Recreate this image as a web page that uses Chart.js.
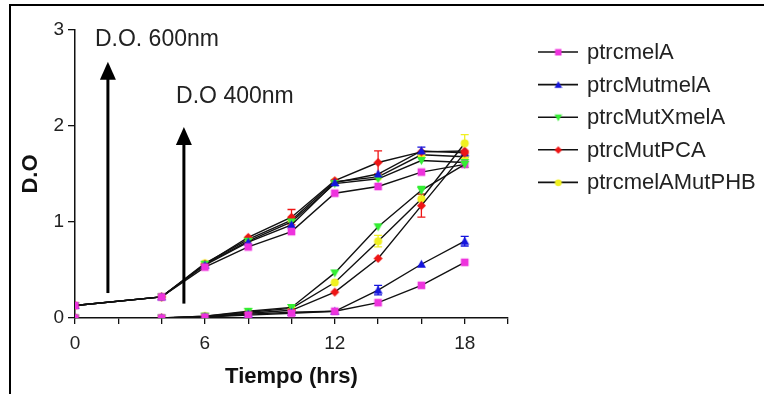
<!DOCTYPE html>
<html>
<head>
<meta charset="utf-8">
<script src="https://cdn.jsdelivr.net/npm/chart.js@4.4.1/dist/chart.umd.min.js"></script>
<style>
  html, body { margin: 0; padding: 0; background: #fff; }
  #wrap { position: relative; width: 764px; height: 394px; overflow: hidden; }
  #frame { position: absolute; left: 9px; top: 4px; width: 800px; height: 420px; border: 2.5px solid #000; border-bottom: none; box-sizing: border-box; pointer-events: none; }
  canvas { position: absolute; left: 0; top: 0; }
</style>
</head>
<body>
<div id="wrap">
  <canvas id="c" width="764" height="394"></canvas>
  <div id="frame"></div>
</div>
<script>
// ---- data ----
const hours = [0, 4, 6, 8, 10, 12, 14, 16, 18];
const seriesNames = ["ptrcmelA", "ptrcMutmelA", "ptrcMutXmelA", "ptrcMutPCA", "ptrcmelAMutPHB"];
const seriesColors = ["#ee33dd", "#1515dd", "#33ee33", "#ee1515", "#f0f020"];
const seriesShapes = ["rect", "triangle", "triangleDown", "rectRot", "circle"];

// D.O. 600nm
const od600_melA       = [0.13, 0.22, 0.53, 0.74, 0.90, 1.30, 1.37, 1.52, 1.60];
const od600_MutmelA    = [0.13, 0.22, 0.55, 0.79, 0.97, 1.41, 1.50, 1.74, 1.72];
const od600_MutXmelA   = [0.13, 0.22, 0.56, 0.80, 1.00, 1.40, 1.45, 1.64, 1.62];
const od600_MutPCA     = [0.13, 0.22, 0.56, 0.84, 1.05, 1.43, 1.62, 1.73, 1.74];
const od600_melAMutPHB = [0.13, 0.22, 0.57, 0.82, 1.02, 1.42, 1.47, 1.70, 1.68];
// D.O. 400nm
const od400_melA       = [0.00, 0.00, 0.01, 0.03, 0.05, 0.07, 0.16, 0.34, 0.58];
const od400_MutmelA    = [0.00, 0.00, 0.01, 0.04, 0.06, 0.07, 0.29, 0.56, 0.80];
const od400_MutXmelA   = [0.00, 0.00, 0.02, 0.07, 0.11, 0.47, 0.95, 1.33, 1.60];
const od400_MutPCA     = [0.00, 0.00, 0.01, 0.05, 0.08, 0.27, 0.62, 1.17, 1.72];
const od400_melAMutPHB = [0.00, 0.00, 0.02, 0.06, 0.10, 0.37, 0.80, 1.24, 1.82];
// error (half-width) per point
const err600_melA       = [0, 0, 0, 0, 0, 0, 0, 0, 0];
const err600_MutmelA    = [0, 0, 0, 0, 0, 0.03, 0, 0.04, 0];
const err600_MutXmelA   = [0, 0, 0, 0, 0, 0, 0, 0, 0.05];
const err600_MutPCA     = [0, 0, 0, 0, 0.08, 0, 0.12, 0, 0];
const err600_melAMutPHB = [0, 0, 0, 0, 0, 0, 0, 0, 0];
const err400_melA       = [0, 0, 0, 0, 0, 0, 0, 0, 0];
const err400_MutmelA    = [0, 0, 0, 0, 0, 0, 0.05, 0, 0.05];
const err400_MutXmelA   = [0, 0, 0, 0, 0, 0, 0, 0.04, 0];
const err400_MutPCA     = [0, 0, 0, 0, 0, 0, 0, 0.12, 0];
const err400_melAMutPHB = [0, 0, 0, 0, 0, 0, 0.06, 0, 0.09];

const xTickLabels = [0, 6, 12, 18];
const yTickLabels = [0, 1, 2, 3];
const annotationLabels = ["D.O. 600nm", "D.O 400nm"];
// arrow annotations in data units: [x, yBottom, yTop]
const arrow600 = [1.52, 0.26, 2.67];
const arrow400 = [5.03, 0.15, 1.99];
const label600Pos = [0.92, 2.9];
const label400Pos = [4.67, 2.31];

const od600 = [od600_melA, od600_MutmelA, od600_MutXmelA, od600_MutPCA, od600_melAMutPHB];
const od400 = [od400_melA, od400_MutmelA, od400_MutXmelA, od400_MutPCA, od400_melAMutPHB];
const err600 = [err600_melA, err600_MutmelA, err600_MutXmelA, err600_MutPCA, err600_melAMutPHB];
const err400 = [err400_melA, err400_MutmelA, err400_MutXmelA, err400_MutPCA, err400_melAMutPHB];

const FONT = "'Liberation Sans', Arial, sans-serif";

// custom marker shapes
function makeMarker(shape, color, size) {
  const c = document.createElement('canvas');
  const s = size * 2 + 2;
  c.width = s; c.height = s;
  const g = c.getContext('2d');
  g.fillStyle = color;
  const m = s / 2;
  g.beginPath();
  if (shape === 'triangleDown') {
    g.moveTo(m - size, m - size * 0.8);
    g.lineTo(m + size, m - size * 0.8);
    g.lineTo(m, m + size);
  } else if (shape === 'triangle') {
    g.moveTo(m - size, m + size * 0.8);
    g.lineTo(m + size, m + size * 0.8);
    g.lineTo(m, m - size);
  } else if (shape === 'rect') {
    g.rect(m - size * 0.85, m - size * 0.85, size * 1.7, size * 1.7);
  } else if (shape === 'rectRot') {
    g.moveTo(m, m - size); g.lineTo(m + size, m); g.lineTo(m, m + size); g.lineTo(m - size, m);
  } else {
    g.arc(m, m, size * 0.9, 0, Math.PI * 2);
  }
  g.closePath();
  g.fill();
  return c;
}

const datasets = [];
const errByDataset = [];
[od400, od600].forEach((group, gi) => {
  group.forEach((vals, i) => {
    datasets.push({
      label: seriesNames[i] + (gi ? ' 600nm' : ' 400nm'),
      data: hours.map((h, k) => ({ x: h, y: vals[k] })),
      borderColor: '#111',
      borderWidth: 1.4,
      pointStyle: makeMarker(seriesShapes[i], seriesColors[i], 4.5),
      pointRadius: 4.5,
      backgroundColor: seriesColors[i],
      tension: 0,
      fill: false
    });
    errByDataset.push({ err: (gi ? err600 : err400)[i], color: seriesColors[i] });
  });
});

const extrasPlugin = {
  id: 'extras',
  beforeDatasetsDraw(chart) {
    const ctx = chart.ctx, xs = chart.scales.x, ys = chart.scales.y;
    // error bars
    ctx.save();
    ctx.lineWidth = 1.3;
    datasets.forEach((ds, di) => {
      const e = errByDataset[di];
      ctx.strokeStyle = e.color;
      ds.data.forEach((p, k) => {
        const d = e.err[k];
        if (!d) return;
        const px = xs.getPixelForValue(p.x);
        const y1 = ys.getPixelForValue(p.y - d), y2 = ys.getPixelForValue(p.y + d);
        ctx.beginPath();
        ctx.moveTo(px, y1); ctx.lineTo(px, y2);
        ctx.moveTo(px - 4, y1); ctx.lineTo(px + 4, y1);
        ctx.moveTo(px - 4, y2); ctx.lineTo(px + 4, y2);
        ctx.stroke();
      });
    });
    ctx.restore();
  },
  afterDraw(chart) {
    const ctx = chart.ctx, xs = chart.scales.x, ys = chart.scales.y;
    ctx.save();
    // arrows
    [arrow600, arrow400].forEach(a => {
      const px = xs.getPixelForValue(a[0]);
      const yb = ys.getPixelForValue(a[1]);
      const yt = ys.getPixelForValue(a[2]);
      ctx.strokeStyle = '#000';
      ctx.lineWidth = 3;
      ctx.beginPath();
      ctx.moveTo(px, yb); ctx.lineTo(px, yt + 14);
      ctx.stroke();
      ctx.fillStyle = '#000';
      ctx.beginPath();
      ctx.moveTo(px, yt);
      ctx.lineTo(px - 8, yt + 18);
      ctx.lineTo(px + 8, yt + 18);
      ctx.closePath();
      ctx.fill();
    });
    // annotation labels
    ctx.fillStyle = '#222';
    ctx.font = '23px ' + FONT;
    ctx.textBaseline = 'middle';
    ctx.textAlign = 'left';
    [label600Pos, label400Pos].forEach((p, i) => {
      ctx.fillText(annotationLabels[i], xs.getPixelForValue(p[0]), ys.getPixelForValue(p[1]));
    });
    // legend
    ctx.font = '22px ' + FONT;
    const lx0 = 538, lx1 = 578, ly0 = 52, dy = 32.6;
    seriesNames.forEach((name, i) => {
      const y = ly0 + i * dy;
      ctx.strokeStyle = '#111';
      ctx.lineWidth = 1.6;
      ctx.beginPath();
      ctx.moveTo(lx0, y); ctx.lineTo(lx1, y);
      ctx.stroke();
      const mk = makeMarker(seriesShapes[i], seriesColors[i], 3.8);
      ctx.drawImage(mk, (lx0 + lx1) / 2 - mk.width / 2, y - mk.height / 2);
      ctx.fillStyle = '#222';
      ctx.fillText(name, 587, y + 1);
    });
    ctx.restore();
  }
};

new Chart(document.getElementById('c'), {
  type: 'line',
  data: { datasets },
  plugins: [extrasPlugin],
  options: {
    responsive: false,
    animation: false,
    devicePixelRatio: 1,
    layout: { padding: { left: 0, top: 30, right: 256, bottom: 0 } },
    plugins: { legend: { display: false }, tooltip: { enabled: false } },
    scales: {
      x: {
        type: 'linear', min: 0, max: 20,
        afterFit(s) { s.height = 76; },
        border: { display: true, color: '#111', width: 1.5 },
        grid: { display: true, drawOnChartArea: false, drawTicks: true, tickLength: 6, color: '#111', lineWidth: 1.3 },
        ticks: {
          stepSize: 2, autoSkip: false, maxRotation: 0, padding: 8,
          color: '#222', font: { family: FONT, size: 19 },
          callback: v => xTickLabels.includes(v) ? String(v) : ''
        },
        title: { display: true, text: 'Tiempo (hrs)', color: '#111', font: { family: FONT, size: 22, weight: 'bold' }, padding: { top: 4, bottom: 4 } }
      },
      y: {
        type: 'linear', min: 0, max: 3,
        afterFit(s) { s.width = 75; },
        border: { display: true, color: '#111', width: 1.5 },
        grid: { display: true, drawOnChartArea: false, drawTicks: true, tickLength: 7, color: '#111', lineWidth: 1.3 },
        ticks: {
          stepSize: 1, padding: 4, color: '#222', font: { family: FONT, size: 19 },
          callback: v => yTickLabels.includes(v) ? String(v) : ''
        },
        title: { display: true, text: 'D.O', color: '#111', font: { family: FONT, size: 22, weight: 'bold' }, padding: { top: 18, bottom: 0 } }
      }
    }
  }
});
</script>
</body>
</html>
